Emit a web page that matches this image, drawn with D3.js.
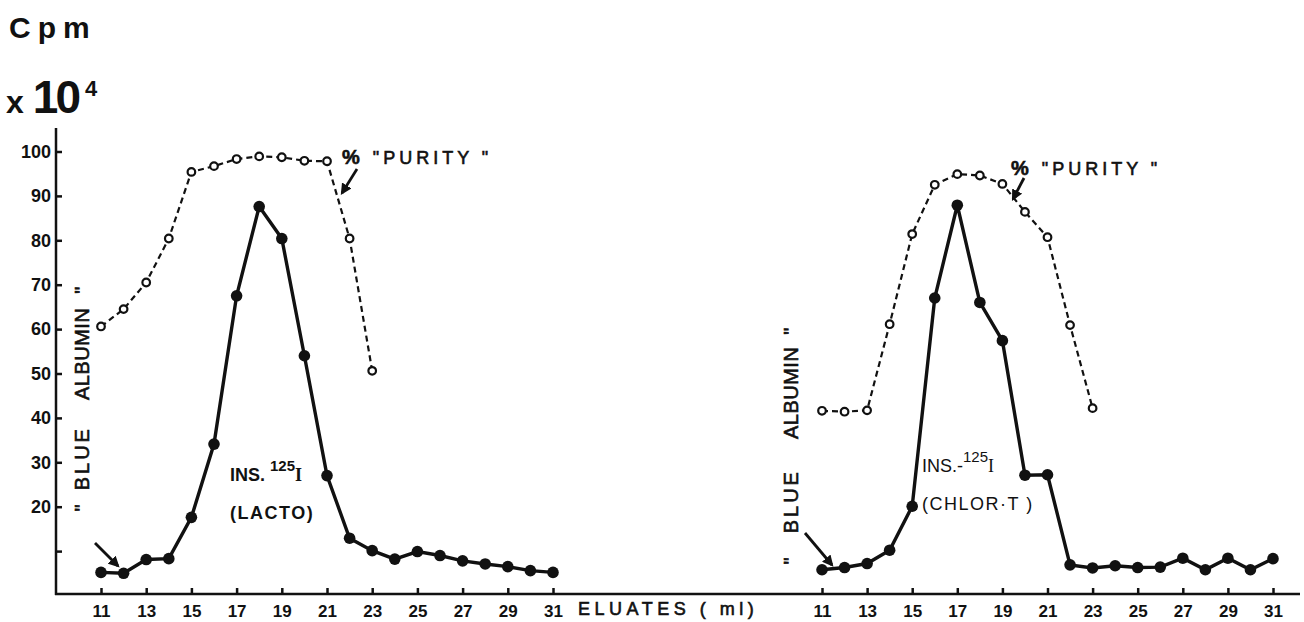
<!DOCTYPE html>
<html>
<head>
<meta charset="utf-8">
<script src="https://cdn.jsdelivr.net/npm/d3@7/dist/d3.min.js"></script>
<style>
  body { margin: 0; background: #fff; }
  svg { display: block; }
  text { font-family: "Liberation Sans", "DejaVu Sans", sans-serif; fill: #111; white-space: pre; }
  .axis path, .axis line { stroke: #111; stroke-width: 2.5; }
  .axis text { font-size: 18px; font-weight: bold; fill: #111; }
  .heavy { stroke: #111; stroke-width: 0.6px; }
</style>
</head>
<body>
<div id="chart"></div>
<script>
// Eluate fractions (ml)
var eluates = [11, 12, 13, 14, 15, 16, 17, 18, 19, 20, 21, 22, 23, 24, 25, 26, 27, 28, 29, 30, 31];
var xTicks = [11, 13, 15, 17, 19, 21, 23, 25, 27, 29, 31];
var yTicks = [10, 20, 30, 40, 50, 60, 70, 80, 90, 100];

// Left panel: lactoperoxidase labelled insulin
var lactoCpm = [5.2, 5.0, 8.1, 8.3, 17.6, 34.1, 67.5, 87.6, 80.4, 54.0, 27.0, 12.9, 10.1, 8.2, 9.9, 9.0, 7.8, 7.1, 6.5, 5.6, 5.2];
var lactoPurityMl = [11, 12, 13, 14, 15, 16, 17, 18, 19, 20, 21, 22, 23];
var lactoPurity = [60.6, 64.5, 70.5, 80.4, 95.4, 96.7, 98.3, 98.9, 98.7, 97.9, 97.8, 80.4, 50.6];

// Right panel: chloramine-T labelled insulin
var chlorCpm = [5.8, 6.3, 7.2, 10.2, 20.1, 67.0, 87.9, 66.0, 57.4, 27.1, 27.2, 6.9, 6.2, 6.7, 6.3, 6.4, 8.4, 5.8, 8.4, 5.8, 8.3];
var chlorPurityMl = [11, 12, 13, 14, 15, 16, 17, 18, 19, 20, 21, 22, 23];
var chlorPurity = [41.6, 41.4, 41.7, 61.1, 81.4, 92.5, 94.9, 94.6, 92.7, 86.4, 80.7, 60.9, 42.2];

var w = 1304;
var h = 622;
var axisY = 594;

var svg = d3.select("#chart")
  .append("svg")
  .attr("width", w)
  .attr("height", h);

// Scales
var yScale = d3.scaleLinear()
  .domain([0, 100])
  .range([595.5, 151.5]);

var xLeft = d3.scaleLinear()
  .domain([11, 31])
  .range([101, 553]);

var xRight = d3.scaleLinear()
  .domain([11, 31])
  .range([822, 1273]);

// Arrow head
svg.append("defs").append("marker")
  .attr("id", "head")
  .attr("viewBox", "0 0 10 10")
  .attr("refX", 8)
  .attr("refY", 5)
  .attr("markerWidth", 4)
  .attr("markerHeight", 4)
  .attr("orient", "auto")
  .append("path")
  .attr("d", "M0,0 L10,5 L0,10 z")
  .style("fill", "#111");

// Title
svg.append("text")
  .attr("x", 9)
  .attr("y", 38)
  .style("font-size", "30px")
  .style("font-weight", "bold")
  .style("letter-spacing", "7px")
  .text("Cpm");

var mult = svg.append("text")
  .attr("x", 6)
  .attr("y", 113);
mult.append("tspan")
  .style("font-size", "32px")
  .style("font-weight", "bold")
  .text("x");
mult.append("tspan")
  .attr("dx", 9)
  .style("font-size", "46px")
  .style("font-weight", "900")
  .style("letter-spacing", "-3px")
  .text("10");
mult.append("tspan")
  .attr("dx", 7)
  .attr("dy", -17)
  .style("font-size", "22px")
  .style("font-weight", "bold")
  .text("4");

// Y axis
var yAxis = d3.axisLeft(yScale)
  .tickValues(yTicks)
  .tickSize(-6)
  .tickPadding(5)
  .tickFormat(function(d) { return d == 10 ? "" : d; });

var yg = svg.append("g")
  .attr("class", "axis")
  .attr("transform", "translate(56,0)")
  .call(yAxis);
yg.select(".domain").remove();
yg.append("line")
  .attr("x1", 0).attr("x2", 0)
  .attr("y1", 128).attr("y2", axisY + 1)
  .style("stroke", "#111")
  .style("stroke-width", 2.5);

// Baseline across both panels
svg.append("line")
  .attr("x1", 55).attr("x2", 1300)
  .attr("y1", axisY).attr("y2", axisY)
  .style("stroke", "#111")
  .style("stroke-width", 2.5);

// X axes
function drawX(scale) {
  var g = svg.append("g")
    .attr("class", "axis")
    .attr("transform", "translate(0," + axisY + ")")
    .call(d3.axisBottom(scale).tickValues(xTicks).tickSize(-6).tickPadding(9));
  g.select(".domain").remove();
  g.selectAll("text").attr("dy", "0.8em").style("font-size", "17px");
}
drawX(xLeft);
drawX(xRight);

svg.append("text")
  .attr("class", "heavy")
  .attr("x", 578)
  .attr("y", 615)
  .style("font-size", "18px")
  .style("letter-spacing", "4.5px")
  .text("ELUATES ( ml)");

// Panels
function drawPanel(xScale, cpm, purityMl, purity) {
  var solid = d3.line()
    .x(function(d, i) { return xScale(eluates[i]); })
    .y(function(d) { return yScale(d); });

  var dashed = d3.line()
    .x(function(d, i) { return xScale(purityMl[i]); })
    .y(function(d) { return yScale(d); });

  svg.append("path")
    .attr("d", dashed(purity))
    .style("fill", "none")
    .style("stroke", "#111")
    .style("stroke-width", 2.2)
    .style("stroke-dasharray", "6,4");

  svg.selectAll(null)
    .data(purity)
    .enter().append("circle")
    .attr("cx", function(d, i) { return xScale(purityMl[i]); })
    .attr("cy", function(d) { return yScale(d); })
    .attr("r", 3.8)
    .style("fill", "#fff")
    .style("stroke", "#111")
    .style("stroke-width", 2.2);

  svg.append("path")
    .attr("d", solid(cpm))
    .style("fill", "none")
    .style("stroke", "#111")
    .style("stroke-width", 3.4);

  svg.selectAll(null)
    .data(cpm)
    .enter().append("circle")
    .attr("cx", function(d, i) { return xScale(eluates[i]); })
    .attr("cy", function(d) { return yScale(d); })
    .attr("r", 5.8)
    .style("fill", "#111");
}
drawPanel(xLeft, lactoCpm, lactoPurityMl, lactoPurity);
drawPanel(xRight, chlorCpm, chlorPurityMl, chlorPurity);

// "BLUE ALBUMIN" vertical labels
function blueAlbumin(x, y, gap1, gap2, gap3) {
  var t = svg.append("text")
    .attr("class", "heavy")
    .attr("transform", "translate(" + x + "," + y + ") rotate(-90)")
    .style("text-anchor", "middle")
    .style("font-size", "20px");
  t.append("tspan").text("\"");
  t.append("tspan").attr("dx", gap1).style("letter-spacing", "3px").text("BLUE");
  t.append("tspan").attr("dx", gap2).style("letter-spacing", "0.5px").text("ALBUMIN");
  t.append("tspan").attr("dx", gap3).text("\"");
}
blueAlbumin(89, 399, 14, 26, 14);
blueAlbumin(798, 446, 24, 30, 12);

// % "PURITY" labels
function purityLabel(x, y) {
  var t = svg.append("text")
    .attr("class", "heavy")
    .attr("x", x)
    .attr("y", y)
    .style("font-size", "18px")
    .style("letter-spacing", "4px");
  t.append("tspan")
    .style("font-weight", "bold")
    .style("font-size", "20px")
    .text("%");
  t.append("tspan")
    .text(" \"PURITY \"");
}
purityLabel(342, 164);
purityLabel(1011, 175);

// Arrows
function arrow(x1, y1, x2, y2) {
  svg.append("line")
    .attr("x1", x1).attr("y1", y1)
    .attr("x2", x2).attr("y2", y2)
    .style("stroke", "#111")
    .style("stroke-width", 2.8)
    .attr("marker-end", "url(#head)");
}
arrow(357, 169, 342, 193);
arrow(1024, 178, 1013, 199);
arrow(95, 543, 118, 566);
arrow(805, 533, 832, 565);

// Insulin labels
function insLabel(x, y, dash, sub, weight) {
  var t = svg.append("text")
    .attr("x", x)
    .attr("y", y)
    .style("font-size", "18px")
    .style("font-weight", weight);
  t.append("tspan").text("INS." + dash);
  t.append("tspan")
    .attr("dy", -10)
    .style("font-size", "15px")
    .text("125");
  t.append("tspan")
    .attr("dy", 10)
    .style("font-family", "Liberation Serif, serif")
    .style("font-size", "18px")
    .text("I");
  svg.append("text")
    .attr("x", x)
    .attr("y", y + 38)
    .style("font-size", "18px")
    .style("font-weight", weight)
    .style("letter-spacing", "1.5px")
    .text(sub);
}
insLabel(230, 481, " ", "(LACTO)", "bold");
insLabel(922, 472, "-", "(CHLOR\u00b7T )", "normal");
</script>
</body>
</html>
